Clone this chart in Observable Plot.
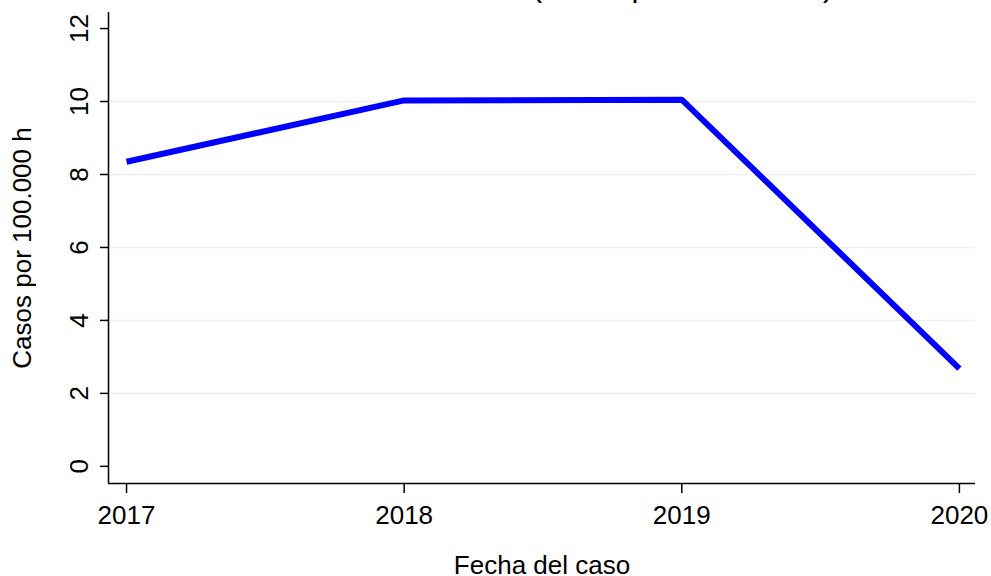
<!DOCTYPE html>
<html>
<head>
<meta charset="utf-8">
<script src="https://cdn.jsdelivr.net/npm/d3@7"></script>
<script src="https://cdn.jsdelivr.net/npm/@observablehq/plot@0.6"></script>
<style>
  body { margin: 0; background: #fff; font-family: "Liberation Sans", Arial, sans-serif; }
  #wrap { position: relative; width: 991px; height: 576px; overflow: hidden; }
  #title { position: absolute; left: 268px; top: -30px; font-size: 31px; line-height: 1; white-space: nowrap; color: #000; }
  #chart { position: absolute; left: 0; top: 0; }
</style>
</head>
<body>
<div id="wrap">
  <div id="chart"></div>
  <div id="title">Tasa de incidencia (casos por 100.000 h)</div>
</div>
<script>
const years = [2017, 2018, 2019, 2020];
const rates = [8.35, 10.03, 10.05, 2.68];
const yTicks = [0, 2, 4, 6, 8, 10, 12];
const gridTicks = [2, 4, 6, 8, 10];
const xTicks = [2017, 2018, 2019, 2020];
const xDomain = [2016.935, 2020.058];
const yDomain = [-0.47, 12.44];
const xTitle = "Fecha del caso";
const yTitle = "Casos por 100.000 h";

const data = years.map((y, i) => ({year: y, rate: rates[i]}));

const chart = Plot.plot({
  width: 991,
  height: 576,
  marginLeft: 108,
  marginRight: 16,
  marginTop: 12,
  marginBottom: 93,
  style: {fontFamily: '"Liberation Sans", Arial, sans-serif', background: "#fff", color: "#000"},
  x: {type: "linear", domain: xDomain},
  y: {domain: yDomain},
  marks: [
    Plot.ruleY(gridTicks, {stroke: "#eaf2f3", strokeWidth: 1.5}),
    Plot.ruleX([xDomain[0]], {stroke: "#000", strokeWidth: 1.5}),
    Plot.ruleY([yDomain[0]], {stroke: "#000", strokeWidth: 1.5}),
    Plot.axisY({ticks: yTicks, tickSize: 8, tickFormat: () => "", label: null, strokeWidth: 1.5}),
    Plot.text(yTicks, {y: d => d, text: d => String(d), frameAnchor: "left", dx: -29, rotate: -90, textAnchor: "middle", lineAnchor: "middle", fontSize: 26}),
    Plot.axisX({ticks: xTicks, tickSize: 10, tickPadding: 12, tickFormat: d => String(d), label: null, fontSize: 26, strokeWidth: 1.5}),
    Plot.text([xTitle], {text: d => d, frameAnchor: "bottom", dy: 82, lineAnchor: "middle", fontSize: 26}),
    Plot.text([yTitle], {text: d => d, frameAnchor: "left", dx: -86, rotate: -90, textAnchor: "middle", lineAnchor: "middle", fontSize: 26}),
    Plot.line(data, {x: "year", y: "rate", stroke: "#0000ff", strokeWidth: 6, strokeLinecap: "butt", strokeLinejoin: "miter"})
  ]
});
document.getElementById("chart").appendChild(chart);
</script>
</body>
</html>
